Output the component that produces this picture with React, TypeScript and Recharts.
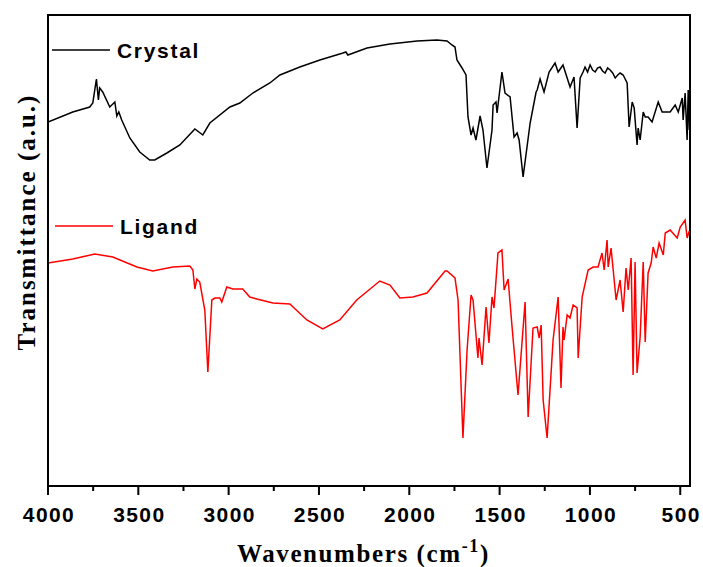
import { LineChart, Line, XAxis, YAxis, ReferenceArea, Legend } from 'recharts';

// wavenumbers (cm-1) and transmittance (a.u.)
const crystalWn = [
  4000, 3863, 3769, 3752, 3732, 3721, 3714, 3697, 3658, 3630, 3619, 3608, 3592, 3547, 3492, 3437,
  3409, 3342, 3270, 3187, 3143, 3104, 2993, 2938, 2866, 2772, 2716, 2606, 2495, 2367, 2351, 2340,
  2234, 2107, 1957, 1847, 1791, 1764, 1747, 1736, 1708, 1686, 1675, 1658, 1647, 1631, 1608, 1592,
  1570, 1542, 1536, 1520, 1514, 1487, 1470, 1442, 1420, 1403, 1392, 1370, 1331, 1315, 1298, 1292,
  1276, 1254, 1226, 1193, 1176, 1149, 1110, 1088, 1071, 1054, 1038, 1027, 1013, 999, 985, 971,
  958, 944, 930, 916, 902, 888, 874, 860, 846, 833, 816, 794, 783, 766, 755, 739,
  733, 722, 705, 694, 678, 656, 622, 600, 556, 528, 511, 489, 484, 473, 462, 456, 450,
];
const crystalT = [
  364, 374, 379, 383, 407, 386, 398, 394, 379, 384, 370, 374, 366, 348, 334, 326,
  326, 333, 341, 357, 351, 363, 379, 383, 393, 403, 411, 419, 426, 433, 434, 431,
  438, 442, 445, 446, 445, 441, 439, 426, 418, 411, 369, 351, 358, 346, 370, 356,
  318, 356, 381, 384, 373, 414, 393, 389, 349, 353, 346, 309, 363, 378, 394, 396,
  407, 394, 414, 423, 414, 421, 399, 409, 358, 408, 414, 419, 414, 421, 416, 414,
  418, 419, 415, 413, 418, 416, 413, 408, 411, 413, 411, 403, 359, 384, 378, 341,
  358, 346, 374, 369, 369, 364, 384, 374, 374, 381, 374, 388, 366, 393, 346, 396, 356,
];

const ligandWn = [
  4000, 3863, 3741, 3641, 3508, 3420, 3309, 3215, 3198, 3187, 3176, 3160, 3132, 3115, 3093, 3076,
  3049, 3038, 3010, 2977, 2922, 2883, 2844, 2755, 2661, 2567, 2479, 2385, 2291, 2163, 2107, 2052,
  1980, 1902, 1802, 1791, 1747, 1730, 1703, 1680, 1658, 1647, 1620, 1614, 1597, 1575, 1559, 1542,
  1531, 1509, 1487, 1475, 1453, 1431, 1398, 1359, 1342, 1315, 1292, 1281, 1270, 1259, 1237, 1204,
  1176, 1160, 1149, 1143, 1126, 1110, 1093, 1071, 1065, 1043, 1010, 982, 955, 933, 921, 905,
  899, 883, 855, 833, 816, 800, 788, 772, 761, 750, 739, 722, 705, 694, 678, 661,
  650, 633, 617, 594, 583, 556, 517, 500, 473, 462, 450,
];
const ligandT = [
  223, 227, 232, 229, 219, 215, 219, 220, 216, 197, 207, 204, 176, 114, 186, 188,
  188, 184, 199, 197, 197, 189, 187, 183, 182, 166, 157, 166, 186, 205, 201, 188,
  189, 193, 215, 215, 208, 186, 48, 136, 191, 186, 128, 148, 121, 179, 143, 189,
  178, 233, 236, 196, 207, 159, 91, 184, 69, 158, 159, 148, 161, 86, 48, 146,
  189, 98, 159, 146, 171, 168, 181, 178, 128, 189, 216, 219, 219, 233, 216, 246,
  219, 238, 186, 206, 174, 218, 196, 228, 111, 224, 113, 149, 224, 144, 213, 223,
  239, 228, 243, 231, 253, 256, 248, 259, 266, 248, 255,
];

const xTicks = [4000, 3750, 3500, 3250, 3000, 2750, 2500, 2250, 2000, 1750, 1500, 1250, 1000, 750, 500];

const crystal = crystalWn.map((wn, i) => ({ wn, t: crystalT[i] }));
const ligand = ligandWn.map((wn, i) => ({ wn, t: ligandT[i] }));

const W = 703;
const H = 567;

const legendPos = [
  { x: 52, y: 50 },
  { x: 55, y: 226 },
];

function Tick(props: any) {
  const { x, y, payload } = props;
  const axisY = y - 8;
  const major = payload.value % 500 === 0;
  return (
    <g>
      <line x1={x} x2={x} y1={axisY} y2={axisY + (major ? 9 : 5)} stroke="#000" strokeWidth={2} />
      {major && (
        <text
          x={x + 1}
          y={axisY + 36}
          textAnchor="middle"
          fontFamily="'Liberation Sans', Arial, sans-serif"
          fontWeight="bold"
          fontSize={21}
          letterSpacing={1.4}
          fill="#000"
        >
          {payload.value}
        </text>
      )}
    </g>
  );
}

function XLabel(props: any) {
  const { viewBox } = props;
  return (
    <text
      x={viewBox.x + 189}
      y={viewBox.y + 76}
      fontFamily="'Liberation Serif', 'Times New Roman', serif"
      fontWeight="bold"
      fontSize={25}
      letterSpacing={1.6}
      fill="#000"
    >
      Wavenumbers (cm
      <tspan fontSize={18} dy={-10}>-1</tspan>
      <tspan dy={10}>)</tspan>
    </text>
  );
}

function YLabel() {
  return (
    <text
      x={0}
      y={0}
      transform="translate(35, 222) rotate(-90)"
      textAnchor="middle"
      fontFamily="'Liberation Serif', 'Times New Roman', serif"
      fontWeight="bold"
      fontSize={25}
      letterSpacing={2}
      fill="#000"
    >
      Transmittance (a.u.)
    </text>
  );
}

function LegendContent(props: any) {
  const { payload } = props;
  return (
    <svg width={W} height={H} style={{ position: 'absolute', left: 0, top: 0 }}>
      {(payload || []).map((item: any, i: number) => {
        const p = legendPos[i];
        return (
          <g key={item.value}>
            <line x1={p.x} x2={p.x + 58} y1={p.y} y2={p.y} stroke={item.color} strokeWidth={1.5} />
            <text
              x={p.x + 65}
              y={p.y + 8}
              fontFamily="'Liberation Sans', Arial, sans-serif"
              fontWeight="bold"
              fontSize={21}
              letterSpacing={1.7}
              fill="#000"
            >
              {item.value}
            </text>
          </g>
        );
      })}
    </svg>
  );
}

export default function App() {
  return (
    <div style={{ position: 'relative', width: W, height: H, overflow: 'hidden' }}>
      <style>{'html, body { margin: 0; padding: 0; overflow: hidden; }'}</style>
      <LineChart width={W} height={H} margin={{ top: 15, right: 13, left: 0, bottom: 0 }}>
        <XAxis
          type="number"
          dataKey="wn"
          domain={[446, 4000]}
          reversed
          ticks={xTicks}
          interval={0}
          tickSize={8}
          tickMargin={0}
          tickLine={false}
          tick={<Tick />}
          height={81}
          axisLine={{ stroke: '#000', strokeWidth: 2 }}
          label={<XLabel />}
          allowDataOverflow
        />
        <YAxis
          type="number"
          domain={[0, 471]}
          width={48}
          tick={false}
          tickLine={false}
          axisLine={{ stroke: '#000', strokeWidth: 2 }}
          label={<YLabel />}
          allowDataOverflow
        />
        <ReferenceArea x1={446} x2={4000} y1={0} y2={471} fill="none" stroke="#000" strokeWidth={2} />
        <Legend layout="horizontal" verticalAlign="middle" align="center" content={<LegendContent />}
          wrapperStyle={{ position: 'absolute', left: 0, top: 0, width: W, height: H, pointerEvents: 'none' }} />
        <Line data={crystal} dataKey="t" name="Crystal" type="linear" stroke="#000000" strokeWidth={1.5}
          dot={false} isAnimationActive={false} />
        <Line data={ligand} dataKey="t" name="Ligand" type="linear" stroke="#ff0000" strokeWidth={1.5}
          dot={false} isAnimationActive={false} />
      </LineChart>
    </div>
  );
}
